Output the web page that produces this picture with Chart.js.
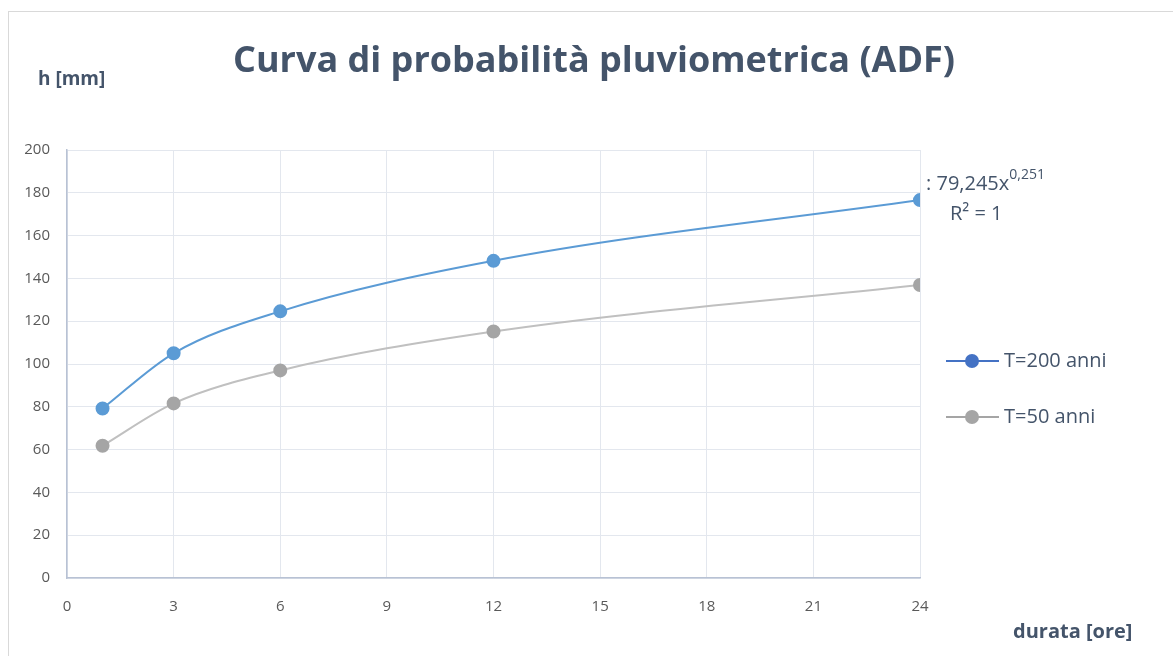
<!DOCTYPE html>
<html>
<head>
<meta charset="utf-8">
<script src="https://cdn.jsdelivr.net/npm/chart.js@4"></script>
<style>
  html, body { margin: 0; padding: 0; background: #fff; }
  #wrap { width: 1173px; height: 656px; position: relative; }
</style>
</head>
<body>
<div id="wrap"><canvas id="chart" width="1173" height="656"></canvas></div>
<script>
// durata [ore]
const durate = [1, 3, 6, 12, 24];
// h [mm]
const hT200 = [79.2, 105, 124.6, 148.2, 176.6];
const hT50 = [61.8, 81.6, 97, 115.2, 136.9];
const seriesNames = ['T=200 anni', 'T=50 anni'];
const equationText = '79,245x';
const equationExp = '0,251';

const textColor = '#44546a';

const extras = {
    id: 'extras',
    afterDraw(chart) {
        const ctx = chart.ctx;
        ctx.save();
        // bordo
        ctx.strokeStyle = '#d9d9d9';
        ctx.lineWidth = 1;
        ctx.strokeRect(8.5, 11.5, 1180, 660);

        // titolo
        ctx.fillStyle = textColor;
        ctx.font = 'bold 36px "Open Sans"';
        ctx.textAlign = 'center';
        ctx.textBaseline = 'middle';
        ctx.fillText('Curva di probabilità pluviometrica (ADF)', 594, 62);

        // titoli assi
        ctx.textAlign = 'left';
        ctx.font = 'bold 19px "Open Sans"';
        ctx.fillText('h [mm]', 38, 80);
        ctx.font = 'bold 20px "Open Sans"';
        ctx.fillText('durata [ore]', 1013, 632);

        // equazione trendline
        ctx.font = '20px "Open Sans"';
        ctx.fillText(': ' + equationText, 926, 184);
        const w = ctx.measureText(': ' + equationText).width;
        ctx.font = '14px "Open Sans"';
        ctx.fillText(equationExp, 926 + w, 175);
        ctx.font = '20px "Open Sans"';
        ctx.fillText('R² = 1', 950, 214);

        // legenda
        const items = [
            { label: seriesNames[0], line: '#4472c4', dot: '#4472c4', y: 361 },
            { label: seriesNames[1], line: '#a5a5a5', dot: '#a5a5a5', y: 417 }
        ];
        items.forEach(it => {
            ctx.strokeStyle = it.line;
            ctx.lineWidth = 2;
            ctx.beginPath();
            ctx.moveTo(946, it.y);
            ctx.lineTo(999, it.y);
            ctx.stroke();
            ctx.fillStyle = it.dot;
            ctx.beginPath();
            ctx.arc(972, it.y, 7, 0, Math.PI * 2);
            ctx.fill();
            ctx.fillStyle = textColor;
            ctx.font = '20px "Open Sans"';
            ctx.textBaseline = 'middle';
            ctx.fillText(it.label, 1004, it.y);
        });
        ctx.restore();
    }
};

new Chart(document.getElementById('chart'), {
    type: 'line',
    data: {
        datasets: [{
            label: seriesNames[0],
            data: durate.map((x, i) => ({ x: x, y: hT200[i] })),
            borderColor: '#5b9bd5',
            backgroundColor: '#5b9bd5',
            pointBorderColor: '#5b9bd5',
            borderWidth: 2,
            pointRadius: 6,
            pointHoverRadius: 6,
            cubicInterpolationMode: 'monotone'
        }, {
            label: seriesNames[1],
            data: durate.map((x, i) => ({ x: x, y: hT50[i] })),
            borderColor: '#c0c0c0',
            backgroundColor: '#a5a5a5',
            pointBorderColor: '#a5a5a5',
            borderWidth: 2,
            pointRadius: 6,
            pointHoverRadius: 6,
            cubicInterpolationMode: 'monotone'
        }]
    },
    options: {
        responsive: false,
        animation: false,
        layout: { padding: { top: 150, left: 10, right: 253, bottom: 0 } },
        plugins: {
            legend: { display: false },
            tooltip: { enabled: false }
        },
        scales: {
            x: {
                type: 'linear',
                min: 0,
                max: 24,
                ticks: { stepSize: 3, color: '#595959', font: { family: 'Open Sans', size: 15 }, padding: 20 },
                grid: { color: '#e3e7ee', drawTicks: false },
                border: { color: '#b8c2d4', width: 1.5 },
                afterFit: s => { s.height = 78; }
            },
            y: {
                min: 0,
                max: 200,
                ticks: { stepSize: 20, color: '#595959', font: { family: 'Open Sans', size: 15 }, padding: 17 },
                grid: { color: '#e3e7ee', drawTicks: false },
                border: { color: '#b8c2d4', width: 1.5 },
                afterFit: s => { s.width = 57; }
            }
        }
    },
    plugins: [extras]
});
</script>
</body>
</html>
